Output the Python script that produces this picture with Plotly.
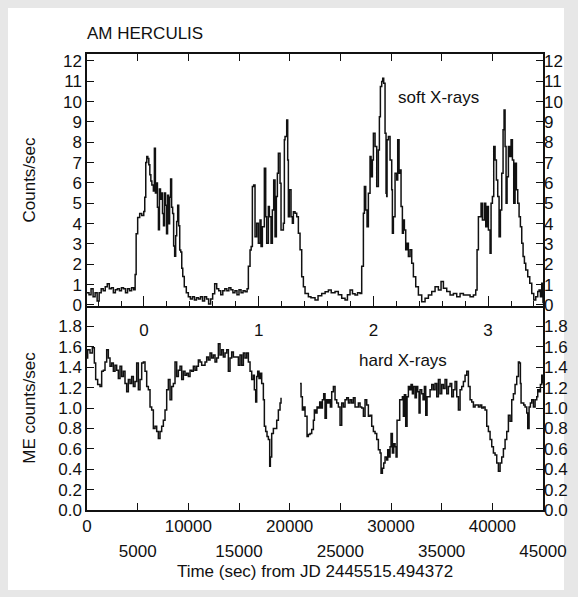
import plotly.graph_objects as go

# ---------------- data ----------------
soft_t = [0, 200, 400, 600, 800, 1000, 1200, 1400, 1600, 1800, 2000, 2200, 2400, 2600, 2800, 3000,
          3200, 3400, 3600, 3800, 4000, 4200, 4400, 4600, 4750, 4850, 5000, 5200, 5400, 5600, 5700,
          5800, 5900, 6000, 6100, 6200, 6300, 6400, 6550, 6650, 6750, 6850, 6950, 7050, 7150, 7250,
          7350, 7450, 7550, 7650, 7750, 7850, 7950, 8050, 8150, 8250, 8350, 8450, 8550, 8650, 8750,
          8850, 8950, 9050, 9150, 9250, 9350, 9450, 9600, 9800, 10000, 10200, 10400, 10600, 10800,
          11000, 11200, 11400, 11600, 11800, 12000, 12200, 12400, 12600, 12800, 13000, 13200, 13400,
          13600, 13800, 14000, 14200, 14400, 14600, 14800, 15000, 15200, 15400, 15600, 15800, 15924,
          16089, 16200, 16319, 16450, 16582, 16747, 16911, 17076, 17174, 17306, 17503, 17635, 17734,
          17898, 17997, 18161, 18293, 18424, 18556, 18688, 18786, 18885, 19050, 19148, 19379, 19477,
          19543, 19708, 19806, 19872, 19971, 20135, 20267, 20366, 20530, 20695, 20859, 21024, 21188,
          21353, 21517, 21846, 22100, 22504, 22800, 23162, 23500, 23820, 24100, 24478, 24800, 25136,
          25465, 25700, 25959, 26200, 26452, 26700, 26946, 27110, 27275, 27373, 27505, 27636, 27768,
          27933, 28031, 28163, 28262, 28426, 28591, 28755, 28854, 28952, 29084, 29183, 29281, 29413,
          29512, 29578, 29610, 29742, 29907, 30071, 30137, 30236, 30400, 30565, 30663, 30795, 30894,
          30992, 31124, 31223, 31321, 31453, 31584, 31716, 31881, 32045, 32210, 32440, 32703, 33032,
          33361, 33690, 34019, 34348, 34677, 34940, 35171, 35500, 35829, 36158, 36487, 36816, 37145,
          37474, 37803, 38132, 38362, 38493, 38625, 38790, 38888, 39020, 39217, 39349, 39480, 39612,
          39777, 39875, 40007, 40138, 40270, 40402, 40533, 40665, 40796, 40928, 41060, 41158, 41257,
          41356, 41454, 41586, 41718, 41849, 41981, 42112, 42244, 42376, 42507, 42639, 42770, 42902,
          43034, 43165, 43297, 43494, 43692, 43889, 44086, 44284, 44481, 44613, 44744, 44876, 45000]
soft_v = [0.6, 0.5, 0.8, 0.4, 0.6, 0.2, 0.6, 0.8, 0.7, 0.9, 1.05, 0.8, 0.85, 0.6, 0.75, 0.8,
          0.7, 0.85, 0.8, 0.6, 0.8, 0.7, 0.85, 0.75, 1.5, 3.5, 4.3, 4.5, 4.4, 4.6, 5.3,
          7.0, 7.3, 7.2, 6.9, 6.4, 6.1, 5.9, 5.6, 7.7, 5.5, 6.0, 4.8, 3.7, 5.7, 5.2,
          5.5, 4.5, 3.9, 5.5, 4.9, 3.5, 5.4, 4.0, 5.3, 6.2, 4.8, 4.5, 2.9, 2.4, 3.4,
          4.1, 4.9, 3.9, 2.7, 2.6, 1.8, 1.4, 0.9, 0.6, 0.4, 0.3, 0.4, 0.25, 0.35,
          0.3, 0.4, 0.2, 0.4, 0.3, 0.05, 0.3, 0.55, 1.05, 0.8, 0.7, 0.5, 0.7,
          0.8, 0.7, 0.85, 0.75, 0.6, 0.7, 0.5, 0.75, 0.6, 0.7, 0.65, 0.8, 1.9,
          2.7, 2.87, 5.82, 5.9, 3.36, 4.02, 3.03, 4.18, 2.87, 3.85, 6.72, 4.34, 3.03,
          4.84, 4.34, 3.03, 4.67, 6.15, 3.36, 5.33, 6.48, 7.46, 5.99, 3.69, 4.02, 8.12,
          8.28, 9.10, 7.13, 4.34, 5.66, 4.34, 4.02, 4.59, 4.51, 4.34, 3.53, 2.71, 1.39,
          0.9, 0.57, 0.41, 0.35, 0.25, 0.45, 0.57, 0.65, 0.74, 0.6, 0.66, 0.5, 0.33,
          0.25, 0.5, 0.74, 0.55, 0.49, 0.6, 0.57, 1.9, 4.51, 5.82, 4.67, 3.85, 5.49,
          7.30, 6.31, 7.13, 8.44, 7.79, 5.82, 7.62, 9.26, 10.74, 10.99, 11.15, 10.90, 8.44,
          5.49, 5.33, 8.12, 8.28, 7.13, 5.66, 3.53, 4.34, 6.48, 6.15, 8.12, 6.48, 6.64,
          4.84, 3.53, 4.18, 3.69, 2.71, 3.03, 2.38, 2.71, 2.05, 1.39, 0.90, 0.49, 0.16,
          0.33, 0.49, 0.66, 0.90, 0.74, 1.15, 0.82, 0.66, 0.49, 0.57, 0.41, 0.57, 0.49,
          0.49, 0.41, 0.49, 0.74, 2.71, 4.34, 4.34, 5.0, 4.18, 5.0, 3.85, 4.84, 3.69,
          2.54, 5.0, 5.33, 7.79, 7.13, 6.15, 5.33, 3.36, 4.67, 6.48, 8.61, 9.59, 7.79,
          5.0, 6.31, 7.79, 7.30, 8.12, 7.13, 5.0, 6.97, 5.66, 5.0, 4.34, 3.85, 3.03,
          2.38, 2.05, 1.72, 1.39, 1.07, 0.57, 0.25, 0.41, 0.66, 0.74, 0.41, 1.07, 0.08]

hard_t = [0, 66, 297, 527, 724, 856, 1053, 1284, 1448, 1613, 1777, 1942, 2106, 2271, 2435, 2600,
          2764, 2929, 3093, 3258, 3422, 3587, 3751, 3916, 4080, 4245, 4409, 4574, 4738, 4903, 5067,
          5232, 5396, 5561, 5725, 5890, 6054, 6219, 6383, 6548, 6712, 6877, 7041, 7206, 7370, 7535,
          7699, 7864, 8028, 8193, 8357, 8522, 8686, 8851, 9015, 9180, 9344, 9509, 9673, 9838, 10002,
          10167, 10331, 10496, 10660, 10825, 10989, 11154, 11318, 11647, 11812, 11976, 12141, 12305,
          12470, 12634, 12799, 12963, 13128, 13292, 13457, 13621, 13786, 13950, 14115, 14279, 14444,
          14608, 14773, 14937, 15102, 15266, 15431, 15595, 15760, 15924, 16089, 16253, 16418, 16516,
          16648, 16747, 16845, 16977, 17108, 17240, 17405, 17503, 17635, 17766, 17898, 18030, 18095,
          18227, 18392, 18556, 18721, 18885, 19050, 19148, 19214, 21024, 21122, 21254, 21385, 21517,
          21616, 21714, 21846, 22011, 22175, 22340, 22438, 22570, 22701, 22833, 22965, 23096, 23228,
          23359, 23491, 23623, 23754, 23886, 24017, 24149, 24314, 24478, 24643, 24807, 24972, 25136,
          25301, 25465, 25630, 25794, 25959, 26123, 26288, 26452, 26617, 26781, 26946, 27110, 27275,
          27439, 27604, 27768, 27933, 28097, 28262, 28426, 28591, 28755, 28920, 29018, 29150, 29281,
          29413, 29578, 29676, 29808, 29907, 30005, 30137, 30268, 30400, 30499, 30597, 30729, 30861,
          30992, 31124, 31223, 31321, 31453, 31584, 31716, 31848, 31979, 32111, 32210, 32374, 32506,
          32637, 32769, 32868, 33032, 33164, 33295, 33427, 33558, 33690, 33855, 34019, 34184, 34348,
          34513, 34677, 34842, 35006, 35171, 35335, 35500, 35664, 35829, 35993, 36158, 36322, 36487,
          36651, 36816, 36980, 37145, 37309, 37474, 37638, 37803, 37967, 38132, 38296, 38461, 38625,
          38790, 38954, 39119, 39283, 39448, 39612, 39777, 39941, 40106, 40270, 40435, 40599, 40764,
          40928, 41093, 41257, 41422, 41586, 41751, 41915, 42080, 42244, 42409, 42573, 42672, 42770,
          42836, 42968, 43099, 43231, 43396, 43494, 43626, 43757, 43889, 44054, 44218, 44383, 44481,
          44613, 44744, 44876, 45000]
hard_v = [1.49, 1.57, 1.54, 1.59, 1.44, 1.28, 1.23, 1.21, 1.36, 1.37, 1.45, 1.57, 1.49, 1.41, 1.44, 1.36,
          1.42, 1.37, 1.29, 1.41, 1.31, 1.36, 1.24, 1.16, 1.28, 1.24, 1.31, 1.21, 1.26, 1.44, 1.18,
          1.28, 1.44, 1.45, 1.36, 1.21, 1.18, 1.01, 0.98, 0.80, 0.82, 0.77, 0.70, 0.77, 0.82, 0.88,
          0.98, 1.18, 1.28, 1.08, 1.21, 1.24, 1.45, 1.31, 1.37, 1.41, 1.28, 1.36, 1.32, 1.34, 1.31,
          1.37, 1.36, 1.41, 1.37, 1.41, 1.47, 1.45, 1.42, 1.45, 1.50, 1.47, 1.54, 1.49,
          1.52, 1.45, 1.49, 1.63, 1.52, 1.57, 1.50, 1.54, 1.57, 1.36, 1.49, 1.55, 1.50,
          1.50, 1.50, 1.42, 1.52, 1.42, 1.54, 1.49, 1.54, 1.45, 1.36, 1.28, 1.32, 1.18,
          1.06, 1.31, 1.36, 1.29, 1.34, 1.24, 1.08, 0.82, 0.77, 0.72, 0.69, 0.43, 0.52,
          0.75, 0.80, 0.80, 0.88, 0.98, 1.05, 1.10, None, 1.24, 1.11, 0.98, 1.01, 0.92,
          0.92, 0.72, 0.74, 0.75, 0.79, 0.88, 0.98, 0.95, 1.01, 1.00, 1.06, 1.00, 1.08,
          1.14, 0.90, 1.08, 1.05, 1.08, 1.01, 1.16, 1.21, 1.08, 1.05, 1.01, 0.83, 1.05,
          1.01, 1.08, 1.10, 1.05, 1.08, 1.05, 1.10, 1.01, 1.01, 1.05, 1.01, 1.00, 0.92,
          1.08, 1.03, 0.92, 0.93, 0.82, 0.77, 0.75, 0.69, 0.59, 0.56, 0.36, 0.41, 0.46,
          0.52, 0.49, 0.59, 0.52, 0.62, 0.75, 0.56, 0.65, 0.62, 0.52, 0.88, 0.88, 1.08,
          1.08, 1.11, 0.92, 1.13, 0.82, 1.11, 1.21, 1.18, 1.23, 1.14, 1.21, 1.10, 1.21,
          1.16, 0.95, 1.18, 1.14, 1.08, 1.21, 0.93, 1.11, 1.11, 1.18, 1.23, 1.18, 1.24,
          1.11, 1.28, 1.14, 1.23, 1.19, 1.28, 1.14, 1.21, 1.24, 1.11, 1.18, 1.26, 1.11,
          0.98, 1.18, 1.21, 1.26, 1.32, 1.36, 1.21, 1.08, 1.06, 1.01, 1.03, 1.03, 1.01,
          1.03, 1.00, 1.01, 0.98, 0.82, 0.77, 0.69, 0.62, 0.56, 0.54, 0.46, 0.38, 0.46,
          0.52, 0.60, 0.69, 0.77, 0.93, 0.87, 1.08, 1.14, 1.23, 1.31, 1.45, 1.44, 1.24,
          1.05, 1.05, 1.03, 1.01, 0.95, 0.80, 1.01, 1.05, 1.08, 1.01, 1.08, 1.11, 1.18,
          1.16, 1.23, 1.32, 1.24]

time_major = [0, 10000, 20000, 30000, 40000]
time_minor = [5000, 15000, 25000, 35000, 45000]
soft_ticks = list(range(0, 13))
hard_ticks = [0.0, 0.2, 0.4, 0.6, 0.8, 1.0, 1.2, 1.4, 1.6, 1.8]
phase_zero = 5620      # time (s) of phase 0
period = 11320         # seconds per phase unit (as drawn)
t_range = [0, 45000]

# ---------------- figure ----------------
FONT = "Liberation Sans, Arial, Helvetica, sans-serif"
BLACK = "#111111"
W, H = 578, 597
L, R, T, B = 87, 35, 54, 87
ph = (H - T - B)
pw = (W - L - R)
split = (510 - 306) / ph

fig = go.Figure()
fig.add_trace(go.Scatter(x=soft_t, y=soft_v, mode="lines", xaxis="x", yaxis="y",
                         line=dict(color=BLACK, width=1.5, shape="hv"),
                         showlegend=False, hoverinfo="skip"))
fig.add_trace(go.Scatter(x=hard_t, y=hard_v, mode="lines", xaxis="x2", yaxis="y2",
                         line=dict(color=BLACK, width=1.5, shape="hv"), connectgaps=False,
                         showlegend=False, hoverinfo="skip"))
# empty traces so that the overlaid tick axes (phase, right-hand scales, second label row) are drawn
for xa, ya in [("x3", "y"), ("x", "y3"), ("x4", "y2"), ("x2", "y4")]:
    fig.add_trace(go.Scatter(x=[None], y=[None], mode="lines", xaxis=xa, yaxis=ya,
                             showlegend=False, hoverinfo="skip"))

tf = dict(family=FONT, size=17, color=BLACK)
common = dict(showgrid=False, zeroline=False, tickcolor=BLACK, tickwidth=1, tickfont=tf,
              automargin=False)

phase_range = [(t_range[0] - phase_zero) / period, (t_range[1] - phase_zero) / period]

fig.update_layout(
    width=W, height=H, autosize=False,
    margin=dict(l=L, r=R, t=T, b=B),
    paper_bgcolor="#e7e7e7", plot_bgcolor="white",
    font=tf,
    xaxis=dict(domain=[0, 1], anchor="y", range=t_range, side="top",
               tickmode="linear", tick0=0, dtick=5000, ticks="inside", ticklen=7,
               showticklabels=False, showline=True, linecolor=BLACK, linewidth=1.5,
               mirror=True, **common),
    xaxis3=dict(overlaying="x", anchor="y", side="bottom", range=phase_range,
                tickmode="linear", tick0=0, dtick=1, ticks="inside", ticklen=10,
                minor=dict(tick0=0, dtick=0.2, ticks="inside", ticklen=5,
                           tickcolor=BLACK, tickwidth=1, showgrid=False),
                showline=False, ticklabelstandoff=12, **common),
    yaxis=dict(domain=[split, 1], anchor="x", range=[-0.05, 12.34],
               tickmode="array", tickvals=soft_ticks, ticks="inside", ticklen=7,
               showline=True, linecolor=BLACK, linewidth=1.5, mirror=True,
               title=dict(text="Counts/sec", standoff=23, font=tf), **common),
    yaxis3=dict(overlaying="y", anchor="x", side="right", range=[-0.05, 12.34],
                tickmode="array", tickvals=soft_ticks, ticks="inside", ticklen=7,
                showline=False, **common),
    xaxis2=dict(domain=[0, 1], anchor="y2", range=t_range,
                tickmode="array", tickvals=time_major, ticktext=[str(v) for v in time_major],
                ticks="inside", ticklen=7, showline=True, linecolor=BLACK, linewidth=1.5,
                mirror=False, title=dict(text="Time (sec) from JD 2445515.494372",
                                         standoff=30, font=tf), **common),
    xaxis4=dict(overlaying="x2", anchor="y2", side="bottom", range=t_range,
                tickmode="array", tickvals=time_minor, ticktext=[str(v) for v in time_minor],
                ticks="inside", ticklen=7, showline=False, ticklabelstandoff=29, **common),
    yaxis2=dict(domain=[0, split], anchor="x2", range=[0, 2.0],
                tickmode="array", tickvals=hard_ticks, tickformat=".1f",
                ticks="inside", ticklen=7, showline=True, linecolor=BLACK, linewidth=1.5,
                mirror=True, title=dict(text="ME counts/sec", standoff=18, font=tf), **common),
    yaxis4=dict(overlaying="y2", anchor="x2", side="right", range=[0, 2.0],
                tickmode="array", tickvals=hard_ticks, tickformat=".1f",
                ticks="inside", ticklen=7, showline=False, **common),
    shapes=[dict(type="rect", xref="paper", yref="paper", layer="below",
                 x0=(8 - L) / pw, x1=(564 - L) / pw,
                 y0=-(590 - 510) / ph, y1=1 + (T - 8) / ph,
                 fillcolor="white", line=dict(width=0))],
    annotations=[
        dict(text="AM HERCULIS", xref="paper", yref="paper", x=(85 - L) / pw,
             y=1 + (T - 33) / ph, xanchor="left", yanchor="middle", showarrow=False, font=tf),
        dict(text="soft X-rays", xref="x", yref="y", x=34700, y=10.2,
             xanchor="center", yanchor="middle", showarrow=False, font=tf),
        dict(text="hard X-rays", xref="x2", yref="y2", x=31200, y=1.47,
             xanchor="center", yanchor="middle", showarrow=False, font=tf),
    ],
)

fig.write_html("out.html", config={"displayModeBar": False},
               post_script="document.body.style.margin='0';"
                           "document.body.style.background='#e7e7e7';")
